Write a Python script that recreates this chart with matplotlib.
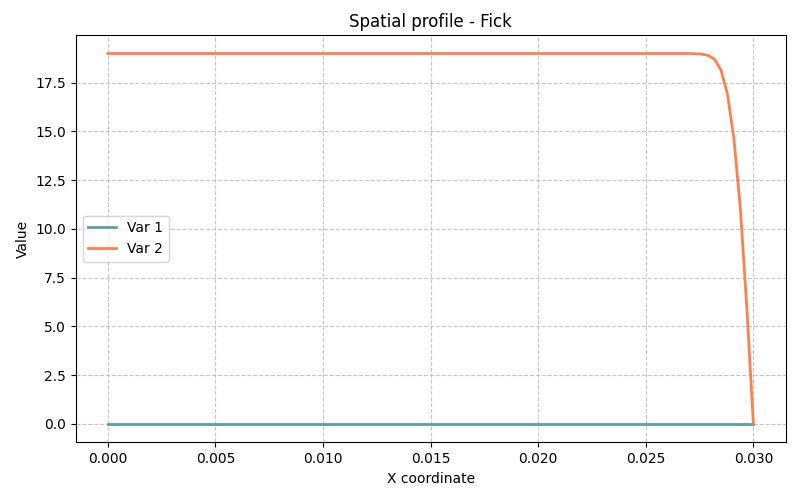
import matplotlib
matplotlib.use("Agg")
import matplotlib.pyplot as plt

x = [0.0, 0.0270, 0.0273, 0.0276, 0.0279, 0.0282, 0.0285, 0.0288, 0.0291, 0.0294, 0.0297, 0.0300]
var1 = [0.0, 0.0, 0.0, 0.0, 0.0, 0.0, 0.0, 0.0, 0.0, 0.0, 0.0, 0.0]
var2 = [19.0, 19.0, 18.99, 18.97, 18.90, 18.70, 18.14, 16.90, 14.60, 11.00, 5.90, 0.0]

fig, ax = plt.subplots(figsize=(8, 5), dpi=100)
ax.plot(x, var1, color="#5f9ea0", linewidth=2, label="Var 1")
ax.plot(x, var2, color="#ff7f50", linewidth=2, label="Var 2")
ax.set_title("Spatial profile - Fick")
ax.set_xlabel("X coordinate")
ax.set_ylabel("Value")
ax.grid(True, linestyle="--", alpha=0.7)
ax.legend(loc="center left")
fig.subplots_adjust(left=0.0945, right=0.982, bottom=0.1155, top=0.93)
fig.savefig("out.png")
